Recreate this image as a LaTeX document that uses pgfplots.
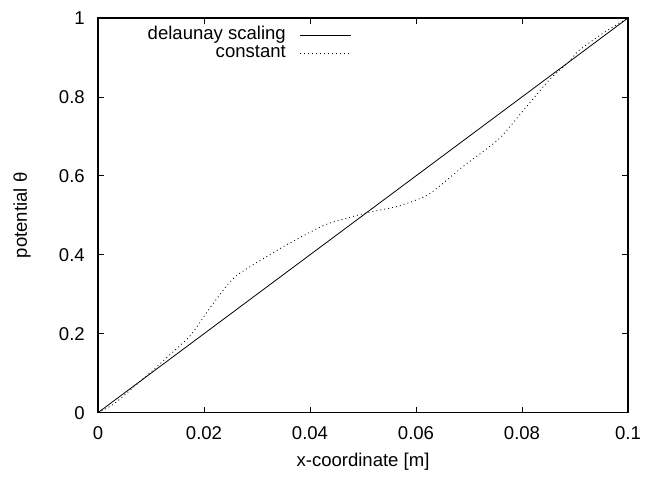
\documentclass[border=0pt]{standalone}
\usepackage{fontspec}
\setmainfont{Liberation Sans}
\usepackage{pgfplots}
\pgfplotsset{compat=1.18}

\begin{document}
\fontsize{13.9}{16}\selectfont
\begin{tikzpicture}
\begin{axis}[
  scale only axis,
  width=397.5pt, height=296pt,
  xmin=0, xmax=0.1, ymin=0, ymax=1,
  xtick={0,0.02,0.04,0.06,0.08,0.1},
  ytick={0,0.2,0.4,0.6,0.8,1},
  scaled ticks=false,
  xticklabel style={/pgf/number format/fixed, /pgf/number format/precision=2,
    anchor=north, inner sep=0pt, yshift=-10.5pt},
  yticklabel style={/pgf/number format/fixed, /pgf/number format/precision=1,
    anchor=east, inner sep=0pt, xshift=-9.75pt},
  /pgf/number format/assume math mode=true,
  tick align=inside,
  major tick length=4.5pt,
  axis line style={line width=0.8pt},
  every tick/.style={black, line width=0.6pt},
  xlabel={x-coordinate [m]},
  ylabel={potential θ},
  xlabel style={at={(axis description cs:0.5,-0.124)}, anchor=center},
  ylabel style={at={(axis description cs:-0.1434,0.5)}, anchor=center},
  legend style={draw=none, fill=none, inner sep=0pt, at={(0.479,0.98)}, anchor=north east,
    row sep=0pt, nodes={inner sep=0pt, text height=10pt, text depth=3.5pt},
    font=\fontsize{13.9}{16}\selectfont},
  legend cell align=right,
  legend plot pos=right,
  legend image code/.code={\path (0pt,0pt); \draw[#1] (10.5pt,0pt) -- (48.75pt,0pt);},
]
\addplot[black, line width=0.6pt] coordinates {(0,0) (0.1,1)};
\addlegendentry{delaunay scaling}

\addplot[black, line width=0.6pt, dash pattern=on 0.7pt off 2.3pt, smooth, tension=0.4] coordinates {
  (0,0) (0.003,0.022) (0.007,0.068) (0.010,0.103) (0.013,0.140)
  (0.0174,0.195) (0.0211,0.265) (0.0243,0.322) (0.0262,0.348)
  (0.0299,0.380) (0.0362,0.430) (0.0425,0.474) (0.0457,0.488)
  (0.0509,0.507) (0.0569,0.524) (0.0620,0.550) (0.0650,0.580)
  (0.069,0.625) (0.0756,0.693) (0.0804,0.768) (0.0852,0.844)
  (0.0888,0.888) (0.0905,0.915) (0.0935,0.945) (0.0965,0.972) (0.1,1)
};
\addlegendentry{constant}
\end{axis}
\pgfresetboundingbox
\path[use as bounding box] ([shift={(-73.5pt,-48pt)}]current axis.south west)
  rectangle ([shift={(27pt,13.5pt)}]current axis.north east);
\end{tikzpicture}
\end{document}
